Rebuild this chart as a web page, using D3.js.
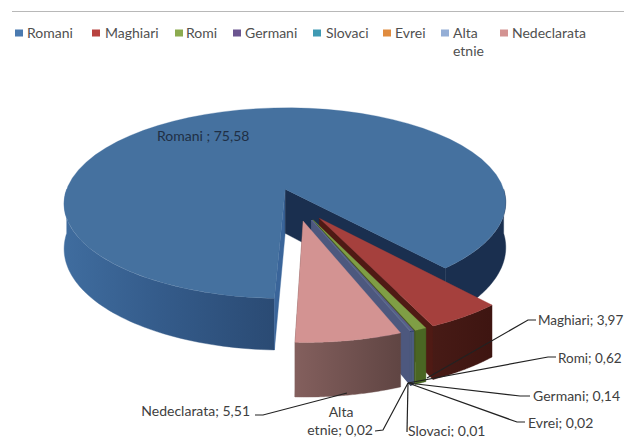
<!DOCTYPE html>
<html>
<head>
<meta charset="utf-8">
<script src="https://cdn.jsdelivr.net/npm/d3@7"></script>
<style>
  html, body { margin: 0; background: #fff; }
  svg { display: block; font-family: Lato, sans-serif; }
</style>
</head>
<body>
<svg id="chart"></svg>
<script>
// Data
const categories = ["Romani", "Maghiari", "Romi", "Germani", "Slovaci", "Evrei", "Alta etnie", "Nedeclarata"];
const values = [75.58, 3.97, 0.62, 0.14, 0.01, 0.02, 0.02, 5.51];
const valueLabels = ["75,58", "3,97", "0,62", "0,14", "0,01", "0,02", "0,02", "5,51"];

// Colours per slice: top face, side, end wall
const topColors = ["#45719f", "#a5403d", "#7f9e45", "#5d5b88", "#3f9ab3", "#66668c", "#6f7396", "#d39392"];
const sideColors = ["#234a78", "#451a16", "#4a6623", "#4d5c82", "#4d5c82", "#4d5c82", "#4d5c82", "#6d4e4c"];
const wallColors = ["#1a2f4f", "#4f1a14", "#3f561e", "#4d587e", "#4d587e", "#4d587e", "#4d587e", "#6d4e4c"];
const legendColors = ["#4a7ab0", "#b8423f", "#8cab4f", "#6b5590", "#3f9ab3", "#e08b3e", "#94aed6", "#d39392"];

// Configurations
const width = 624;
const height = 437;
const radius = 223;
const explodeMain = 33;
const explodeRest = 42;
const depth = 45;
const perspective = 1500; // distance of the viewer
const tilt = 0.436; // vertical squash of the pie plane
const originX = 296;
const originY = 202.5;
const startDeg = 182;
const textColor = "#404040";
const fontSize = 14;

// Layout of legend and leader labels
const legendX = [15, 92, 175, 233, 313, 383, 441, 500];
const legendTextX = [27, 105, 186, 245, 326, 395, 453, 512];
const leaders = {
  "Maghiari": {pts: [[427, 378], [528, 320], [536, 320]], x: 538, y: 320, anchor: "start", size: 13.5},
  "Romi": {pts: [[408, 383], [548, 357], [556, 357]], x: 558, y: 358, anchor: "start", size: 13.5},
  "Germani": {pts: [[408, 383], [520, 396], [530, 396]], x: 533, y: 396, anchor: "start"},
  "Slovaci": {pts: [[408, 383], [407, 432]], x: 408, y: 431, anchor: "start"},
  "Evrei": {pts: [[408, 383], [517, 422], [525, 422]], x: 528, y: 423, anchor: "start"},
  "Alta etnie": {pts: [[408, 383], [383, 430], [375, 431]], x: 373, y: 430, anchor: "end"},
  "Nedeclarata": {pts: [[347, 393], [263, 415], [255, 415]], x: 250, y: 411, anchor: "end"}
};

const svg = d3.select("#chart")
    .attr("width", width)
    .attr("height", height)
    .attr("viewBox", [0, 0, width, height]);

const defs = svg.append("defs");
const gradient = (id, x1, x2, stops) => {
  const g = defs.append("linearGradient").attr("id", id)
      .attr("gradientUnits", "userSpaceOnUse")
      .attr("x1", x1).attr("x2", x2).attr("y1", 0).attr("y2", 0);
  stops.forEach(([o, c]) => g.append("stop").attr("offset", o).attr("stop-color", c));
  return `url(#${id})`;
};
const mainSide = gradient("mainSide", 67, 278, [[0, "#3f6c9e"], [0.45, "#345b8a"], [1, "#2a4a73"]]);
const pinkSide = gradient("pinkSide", 296, 400, [[0, "#835f5d"], [1, "#604543"]]);
const redSide = gradient("redSide", 428, 490, [[0, "#481b16"], [1, "#3e1511"]]);

// Top rule
svg.append("line")
    .attr("x1", 12).attr("x2", width).attr("y1", 11.5).attr("y2", 11.5)
    .attr("stroke", "#b8b8b8").attr("stroke-width", 1.2);

// Legend
const legend = svg.append("g").selectAll("g")
    .data(categories)
    .join("g");
legend.append("rect")
    .attr("x", (d, i) => legendX[i]).attr("y", 29.5)
    .attr("width", 8).attr("height", 7)
    .attr("fill", (d, i) => legendColors[i]);
legend.append("text")
    .attr("x", (d, i) => legendTextX[i]).attr("y", 38)
    .attr("font-size", fontSize)
    .attr("fill", "#505050")
    .text(d => d === "Alta etnie" ? "Alta" : d);
legend.filter(d => d === "Alta etnie").append("text")
    .attr("x", 453).attr("y", 55.5)
    .attr("font-size", fontSize)
    .attr("fill", "#505050")
    .text("etnie");

// Pie angles
const arcs = d3.pie().sort(null)
    .startAngle(startDeg * Math.PI / 180)
    .endAngle((startDeg + 360) * Math.PI / 180)(values);

// Project a point of the pie plane on the screen. down = height below the top face
function project(angle, r, off, down = 0) {
  const X = off.x + r * Math.sin(angle);
  const Z = off.z - r * Math.cos(angle);
  const s = 1 / (1 - Z / perspective);
  return [originX + X * s, originY + tilt * Z * s + down * s];
}

const line = d3.line();
const arcPoints = (a0, a1, off, down = 0) =>
  d3.range(0, 61).map(i => project(a0 + (a1 - a0) * i / 60, radius, off, down));

const pie = svg.append("g").style("filter", "blur(0.5px)");

function drawSide(a0, a1, off, fill) {
  if (a1 <= a0) return;
  const pts = arcPoints(a0, a1, off).concat(arcPoints(a0, a1, off, depth).reverse());
  pie.append("path").attr("d", line(pts) + "Z").attr("fill", fill).attr("stroke", fill).attr("stroke-width", 0.4);
}
function drawWall(angle, off, fill) {
  const apex = project(0, 0, off);
  const apexLow = project(0, 0, off, depth);
  const rim = project(angle, radius, off);
  const rimLow = project(angle, radius, off, depth);
  pie.append("path").attr("d", line([apex, rim, rimLow, apexLow]) + "Z")
      .attr("fill", fill).attr("stroke", fill).attr("stroke-width", 0.4);
}

arcs.forEach((d, i) => {
  const mid = (d.startAngle + d.endAngle) / 2;
  const explode = i === 0 ? explodeMain : explodeRest;
  const off = {x: explode * Math.sin(mid), z: -explode * Math.cos(mid)};
  const top = [project(0, 0, off)].concat(arcPoints(d.startAngle, d.endAngle, off));

  if (i === 0) {
    // the big slice turns its side light on the left, dark on the right
    drawSide(d.startAngle, 1.5 * Math.PI, off, mainSide);
    drawSide(2.5 * Math.PI, d.endAngle, off, wallColors[0]);
    drawWall(d.startAngle, off, "#3a659a");
    drawWall(d.endAngle, off, wallColors[0]);
  } else {
    drawWall(d.endAngle, off, wallColors[i]);
    const fill = i === 1 ? redSide : i === 7 ? pinkSide : sideColors[i];
    drawSide(d.startAngle, d.endAngle, off, fill);
  }
  pie.append("path").attr("d", line(top) + "Z").attr("fill", topColors[i]).attr("stroke", topColors[i]).attr("stroke-width", 0.3);
});

// Data labels
svg.append("text")
    .attr("x", 157).attr("y", 141)
    .attr("font-size", fontSize)
    .attr("fill", "#1f2f45")
    .text(`${categories[0]} ; ${valueLabels[0]}`);

categories.slice(1).forEach((name, i) => {
  const l = leaders[name];
  svg.append("path")
      .attr("d", line(l.pts))
      .attr("fill", "none")
      .attr("stroke", "#222")
      .attr("stroke-width", 1.2);
  const text = name === "Alta etnie" ? "etnie" : name;
  svg.append("text")
      .attr("x", l.x).attr("y", l.y + 4.5)
      .attr("text-anchor", l.anchor)
      .attr("font-size", l.size || fontSize)
      .attr("fill", textColor)
      .text(`${text}; ${valueLabels[i + 1]}`);
  if (name === "Alta etnie") {
    svg.append("text")
        .attr("x", 341).attr("y", 417)
        .attr("text-anchor", "middle")
        .attr("font-size", fontSize)
        .attr("fill", textColor)
        .text("Alta");
  }
});
</script>
</body>
</html>
